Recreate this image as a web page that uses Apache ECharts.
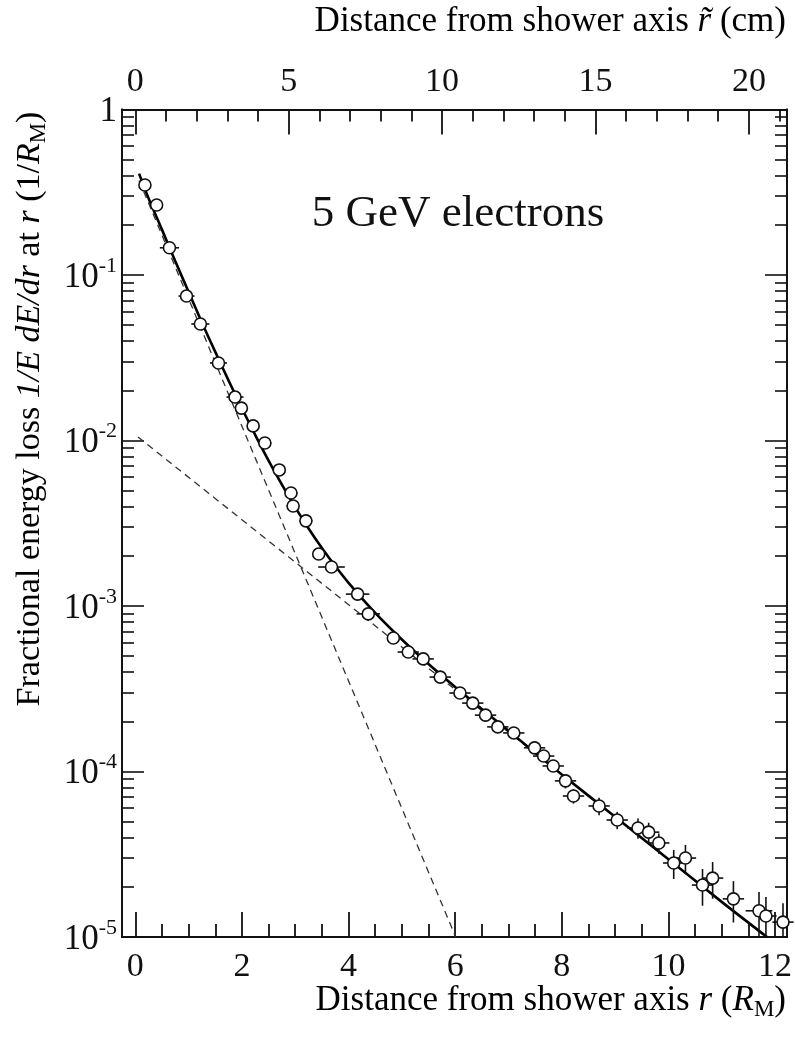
<!DOCTYPE html>
<html>
<head>
<meta charset="utf-8">
<script src="https://cdn.jsdelivr.net/npm/echarts@6/dist/echarts.min.js"></script>
<style>
  html, body { margin: 0; padding: 0; background: #fff; }
  #chart { width: 795px; height: 1044px; }
</style>
</head>
<body>
<div id="chart"></div>
<script>
// Measured lateral profile of 5 GeV electron showers
const radius = [0.18, 0.40, 0.64, 0.96, 1.22, 1.56, 1.87, 1.99, 2.21, 2.43, 2.70, 2.92, 2.96, 3.20, 3.44, 3.68,
  4.17, 4.37, 4.84, 5.12, 5.40, 5.72, 6.09, 6.33, 6.57, 6.80, 7.10, 7.49, 7.66, 7.84, 8.07, 8.22, 8.70, 9.04,
  9.43, 9.63, 9.82, 10.10, 10.32, 10.64, 10.83, 11.22, 11.70, 11.83, 12.15];
const energyLoss = [0.35, 0.265, 0.146, 0.0746, 0.0506, 0.0294, 0.0183, 0.0157, 0.01225, 0.00966, 0.00664,
  0.00482, 0.00402, 0.00327, 0.00206, 0.00172, 0.00118, 0.000896, 0.000641, 0.000527, 0.000479, 0.000372,
  0.000298, 0.000259, 0.000219, 0.000186, 0.000171, 0.000139, 0.000124, 0.000108, 8.78e-5, 7.11e-5, 6.19e-5,
  5.09e-5, 4.56e-5, 4.30e-5, 3.70e-5, 2.80e-5, 3.00e-5, 2.06e-5, 2.27e-5, 1.70e-5, 1.44e-5, 1.34e-5, 1.23e-5];
// horizontal half-width of each bin (R_M)
const radiusErr = [0.1, 0.1, 0.18, 0.15, 0.17, 0.16, 0.16, 0.12, 0.12, 0.12, 0.12, 0.12, 0.12, 0.12, 0.12, 0.25,
  0.22, 0.22, 0.12, 0.2, 0.2, 0.2, 0.2, 0.2, 0.2, 0.2, 0.2, 0.2, 0.2, 0.2, 0.2, 0.2, 0.2, 0.2,
  0.2, 0.2, 0.2, 0.2, 0.2, 0.2, 0.2, 0.2, 0.25, 0.2, 0.2];
// relative uncertainty of each value
const lossErr = [0.02, 0.02, 0.02, 0.02, 0.02, 0.02, 0.02, 0.02, 0.02, 0.02, 0.02, 0.02, 0.02, 0.02, 0.02, 0.02,
  0.03, 0.03, 0.03, 0.03, 0.03, 0.03, 0.04, 0.04, 0.04, 0.05, 0.06, 0.08, 0.08, 0.08, 0.1, 0.1, 0.12, 0.12,
  0.14, 0.14, 0.14, 0.2, 0.2, 0.25, 0.25, 0.28, 0.3, 0.3, 0.3];

// Two-component fit: total, narrow core and broad halo
const fitRadius = [0.07, 0.25, 0.5, 0.75, 1.0, 1.25, 1.5, 1.75, 2.0, 2.25, 2.5, 2.75, 3.0, 3.25, 3.5, 3.75,
  4.0, 4.5, 5.0, 5.5, 6.0, 7.0, 8.0, 9.0, 10.0, 11.0, 11.85];
const fitTotal = [0.41, 0.29, 0.188, 0.121, 0.079, 0.0515, 0.0343, 0.0230, 0.01563, 0.01079, 0.00756, 0.005405,
  0.00394, 0.00294, 0.00224, 0.001743, 0.00138, 0.000908, 0.000627, 0.000446, 0.000324, 0.000176, 9.6e-5,
  5.33e-5, 2.95e-5, 1.63e-5, 1.0e-5];
const coreRadius = [0.07, 6.01];
const coreLoss = [0.373, 1.0e-5];
const haloRadius = [0.05, 11.83];
const haloLoss = [0.0105, 1.0e-5];

const yDecades = [1e-5, 1e-4, 1e-3, 1e-2, 1e-1, 1];
const yMinor = [];
yDecades.slice(0, 5).forEach(d => { for (let k = 2; k <= 9; k++) yMinor.push(d * k); });
const xMajor = [0, 2, 4, 6, 8, 10, 12];
const xMinor = [];
for (let v = 0.5; v < 12.2; v += 0.5) if (v % 2 !== 0) xMinor.push(v);
const cmMajor = [0, 5, 10, 15, 20];
const cmMinor = [];
for (let v = 1; v <= 21; v++) if (v % 5 !== 0) cmMinor.push(v);

const FONT = '"Liberation Serif", "Times New Roman", serif';
const INK = '#111';

const rMin = -0.25, rMax = 12.225;
const cmPerRM = 1.7375;

function zip(a, b) { return a.map((v, i) => [v, b[i]]); }

const points = radius.map((r, i) => [r, energyLoss[i], radiusErr[i], lossErr[i]]);

function xAxisBase(pos, min, max, ticks, len, withLabels) {
  return {
    type: 'value', position: pos, min: min, max: max,
    axisLine: { show: true, onZero: false, lineStyle: { color: INK, width: 1.8 } },
    axisTick: { show: true, inside: true, length: len, customValues: ticks, lineStyle: { color: INK, width: 1.8 } },
    axisLabel: withLabels ? {
      show: true, customValues: ticks, margin: pos === 'bottom' ? 13 : 10,
      fontFamily: FONT, fontSize: 34, color: INK
    } : { show: false },
    splitLine: { show: false }
  };
}

function yAxisBase(pos, ticks, len, withLabels) {
  return {
    type: 'log', logBase: 10, position: pos, min: 1e-5, max: 1,
    axisLine: { show: true, onZero: false, lineStyle: { color: INK, width: 1.8 } },
    axisTick: { show: true, inside: true, length: len, customValues: ticks, lineStyle: { color: INK, width: 1.6 } },
    axisLabel: withLabels ? {
      show: true, customValues: ticks, margin: 5,
      formatter: function (v) {
        const e = Math.round(Math.log10(v));
        return e === 0 ? '{b|1}' : '{b|10}{s|' + e + '}';
      },
      rich: {
        b: { fontFamily: FONT, fontSize: 35, color: INK, lineHeight: 40, verticalAlign: 'bottom' },
        s: { fontFamily: FONT, fontSize: 22, color: INK, lineHeight: 22, verticalAlign: 'top' }
      }
    } : { show: false },
    splitLine: { show: false }
  };
}

const chart = echarts.init(document.getElementById('chart'), null, { renderer: 'canvas' });

const titleRich = {
  a: { fontFamily: FONT, fontSize: 35, color: INK, lineHeight: 40, verticalAlign: 'middle' },
  i: { fontFamily: FONT, fontSize: 35, fontStyle: 'italic', color: INK, lineHeight: 40, verticalAlign: 'middle' },
  sub: { fontFamily: FONT, fontSize: 23, color: INK, lineHeight: 23, verticalAlign: 'bottom' }
};
const yTitleRich = {
  a: { fontFamily: FONT, fontSize: 34, color: INK, lineHeight: 40, verticalAlign: 'middle' },
  i: { fontFamily: FONT, fontSize: 34, fontStyle: 'italic', color: INK, lineHeight: 40, verticalAlign: 'middle' },
  sub: { fontFamily: FONT, fontSize: 23, color: INK, lineHeight: 23, verticalAlign: 'bottom' }
};

chart.setOption({
  animation: false,
  backgroundColor: '#fff',
  grid: { left: 122, right: 4, top: 109.5, bottom: 107, containLabel: false },
  xAxis: [
    xAxisBase('bottom', rMin, rMax, xMajor, 25, true),
    xAxisBase('bottom', rMin, rMax, xMinor, 13, false),
    xAxisBase('top', rMin * cmPerRM, rMax * cmPerRM, cmMajor, 25, true),
    xAxisBase('top', rMin * cmPerRM, rMax * cmPerRM, cmMinor, 12, false)
  ],
  yAxis: [
    yAxisBase('left', yDecades, 22, true),
    yAxisBase('left', yMinor, 12, false),
    yAxisBase('right', yDecades, 22, false),
    yAxisBase('right', yMinor, 12, false)
  ],
  graphic: [
    {
      type: 'text', x: 458, y: 214, z: 10,
      style: { text: '5 GeV electrons', font: '45px ' + FONT, fill: INK, align: 'center', verticalAlign: 'middle' }
    },
    {
      type: 'text', x: 786, y: 1001, z: 10,
      style: {
        text: '{a|Distance from shower axis }{i|r}{a| (}{i|R}{sub|M}{a|)}',
        rich: titleRich, align: 'right', verticalAlign: 'middle'
      }
    },
    {
      type: 'text', x: 786, y: 22, z: 10,
      style: {
        text: '{a|Distance from shower axis }{i|r\u0303}{a| (cm)}',
        rich: titleRich, align: 'right', verticalAlign: 'middle'
      }
    },
    {
      type: 'text', x: 30, y: 409, rotation: Math.PI / 2, z: 10,
      style: {
        text: '{a|Fractional energy loss }{i|1/E dE/dr}{a| at }{i|r}{a| (1/}{i|R}{sub|M}{a|)}',
        rich: yTitleRich, align: 'center', verticalAlign: 'middle'
      }
    }
  ],
  series: [
    {
      name: 'halo', type: 'line', data: zip(haloRadius, haloLoss), symbol: 'none', z: 2,
      lineStyle: { color: '#333', width: 1.3, type: [7, 5] }
    },
    {
      name: 'core', type: 'line', data: zip(coreRadius, coreLoss), symbol: 'none', z: 2,
      lineStyle: { color: '#333', width: 1.3, type: [7, 5] }
    },
    {
      name: 'fit', type: 'line', data: zip(fitRadius, fitTotal), symbol: 'none', smooth: 0.3, z: 3,
      lineStyle: { color: '#000', width: 2.6 }
    },
    {
      name: 'errors', type: 'custom', z: 4, data: points,
      renderItem: function (params, api) {
        const r = api.value(0), v = api.value(1), dr = api.value(2), rel = api.value(3);
        const left = api.coord([r - dr, v]);
        const right = api.coord([r + dr, v]);
        const top = api.coord([r, v * (1 + rel)]);
        const bottom = api.coord([r, Math.max(v * (1 - rel), 1e-5)]);
        const st = { stroke: '#111', lineWidth: 1.6 };
        return {
          type: 'group',
          children: [
            { type: 'line', shape: { x1: left[0], y1: left[1], x2: right[0], y2: right[1] }, style: st },
            { type: 'line', shape: { x1: top[0], y1: top[1], x2: bottom[0], y2: bottom[1] }, style: st }
          ]
        };
      }
    },
    {
      name: 'data', type: 'scatter', data: points, symbol: 'circle', symbolSize: 12, z: 5,
      itemStyle: { color: '#fff', borderColor: '#111', borderWidth: 1.6, opacity: 1 }
    }
  ]
});
</script>
</body>
</html>
